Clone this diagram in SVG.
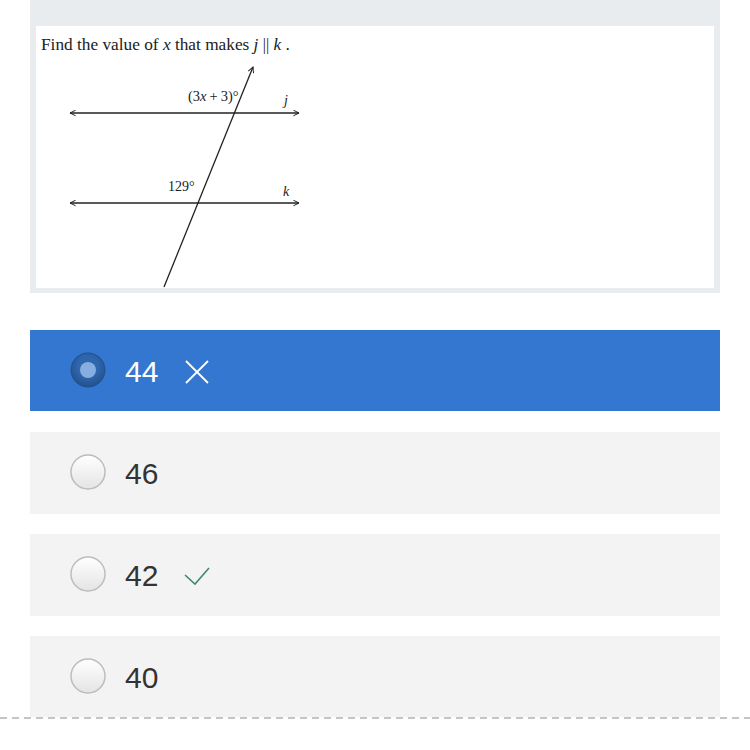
<svg xmlns="http://www.w3.org/2000/svg" width="750" height="750" viewBox="0 0 750 750">
<style>
.serif{font-family:"Liberation Serif","Times New Roman",serif;fill:#222}
.opt{font-family:"Liberation Sans",Arial,sans-serif;font-size:30px;fill:#333}
.geo{stroke:#222;stroke-width:1.3;fill:none}
.box{fill:#f3f3f3}
</style>
<defs>
<marker id="ah" viewBox="0 0 10 10" refX="9" refY="5" markerWidth="7" markerHeight="7" orient="auto-start-reverse" markerUnits="userSpaceOnUse">
<path d="M1,1 L9,5 L1,9" fill="none" stroke="#222" stroke-width="1.4"/>
</marker>
<linearGradient id="rg" x1="0" y1="0" x2="0" y2="1">
<stop offset="0" stop-color="#ffffff"/>
<stop offset="1" stop-color="#e4e4e4"/>
</linearGradient>
<radialGradient id="sg" cx="0.5" cy="0.4" r="0.6">
<stop offset="0.5" stop-color="#2f66ad"/>
<stop offset="1" stop-color="#24508c"/>
</radialGradient>
</defs>
<rect width="750" height="750" fill="#fff"/>
<g id="question">
<rect x="30" y="0" width="690" height="293" fill="#e9ecef"/>
<rect x="36" y="26" width="678" height="262" fill="#fff"/>
<text class="serif" x="41" y="50" font-size="17.3" xml:space="preserve">Find the value of <tspan font-style="italic">x</tspan> that makes <tspan font-style="italic">j</tspan> <tspan font-size="16">||</tspan> <tspan font-style="italic">k</tspan> .</text>
</g>
<g id="connectors">
<line class="geo" x1="70" y1="113" x2="299" y2="113" marker-start="url(#ah)" marker-end="url(#ah)"/>
<line class="geo" x1="70" y1="203" x2="299" y2="203" marker-start="url(#ah)" marker-end="url(#ah)"/>
<line class="geo" x1="164" y1="287" x2="253" y2="67" marker-end="url(#ah)"/>
</g>
<g id="labels">
<text class="serif" x="188" y="101" font-size="14.5">(3<tspan font-style="italic">x</tspan><tspan dx="3">+</tspan><tspan dx="3">3)°</tspan></text>
<text class="serif" x="284" y="105" font-size="14" font-style="italic">j</text>
<text class="serif" x="168" y="191" font-size="14">129°</text>
<text class="serif" x="283" y="196" font-size="14" font-style="italic">k</text>
</g>
<g id="option-44">
<rect x="30" y="330" width="690" height="81" fill="#3477d0"/>
<circle cx="88" cy="370" r="17" fill="url(#sg)" stroke="#22508d" stroke-width="1"/>
<circle cx="88" cy="370" r="8" fill="#86aee0"/>
<text x="125" y="382" font-family="Liberation Sans,Arial,sans-serif" font-size="30" fill="#fff">44</text>
<path d="M186,361 L208,383 M208,361 L186,383" stroke="#fff" stroke-width="1.8" fill="none"/>
</g>
<g id="option-46">
<rect class="box" x="30" y="432" width="690" height="82"/>
<circle cx="88" cy="472" r="17" fill="url(#rg)" stroke="#bdbdbd" stroke-width="1.5"/>
<text class="opt" x="125" y="484">46</text>
</g>
<g id="option-42">
<rect class="box" x="30" y="534" width="690" height="82"/>
<circle cx="88" cy="574" r="17" fill="url(#rg)" stroke="#bdbdbd" stroke-width="1.5"/>
<text class="opt" x="125" y="586">42</text>
<path d="M185,575 L195,584 L209,568" stroke="#3d8a72" stroke-width="1.6" fill="none"/>
</g>
<g id="option-40">
<rect class="box" x="30" y="636" width="690" height="81"/>
<circle cx="88" cy="676" r="17" fill="url(#rg)" stroke="#bdbdbd" stroke-width="1.5"/>
<text class="opt" x="125" y="688">40</text>
</g>
<line x1="0" y1="718" x2="750" y2="718" stroke="#8a8a8a" stroke-width="1.2" stroke-dasharray="7 5"/>
</svg>
